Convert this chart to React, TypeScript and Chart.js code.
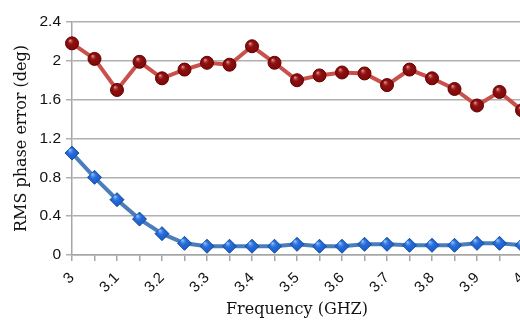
import React, { useEffect, useRef } from 'react';
import { Chart, registerables } from 'chart.js';

Chart.register(...registerables);

const frequencies = ['3', '3.05', '3.1', '3.15', '3.2', '3.25', '3.3', '3.35', '3.4', '3.45', '3.5', '3.55', '3.6', '3.65', '3.7', '3.75', '3.8', '3.85', '3.9', '3.95', '4'];
const shownTickLabels = ['3', '3.1', '3.2', '3.3', '3.4', '3.5', '3.6', '3.7', '3.8', '3.9', '4'];
const redSeries = [2.18, 2.02, 1.70, 1.99, 1.82, 1.91, 1.98, 1.96, 2.15, 1.98, 1.80, 1.85, 1.88, 1.87, 1.75, 1.91, 1.82, 1.71, 1.54, 1.68, 1.49];
const blueSeries = [1.05, 0.80, 0.57, 0.37, 0.22, 0.12, 0.09, 0.09, 0.09, 0.09, 0.11, 0.09, 0.09, 0.11, 0.11, 0.10, 0.10, 0.10, 0.12, 0.12, 0.10];
const yTicks = [0, 0.4, 0.8, 1.2, 1.6, 2, 2.4];

const glossPlugin = {
  id: 'gloss',
  afterDatasetsDraw(chart: any) {
    const ctx = chart.ctx;
    chart.data.datasets.forEach((ds: any, di: number) => {
      const meta = chart.getDatasetMeta(di);
      meta.data.forEach((pt: any) => {
        const r = di === 0 ? 6.5 : 7;
        ctx.save();
        ctx.beginPath();
        if (di === 0) {
          ctx.arc(pt.x, pt.y, r, 0, Math.PI * 2);
        } else {
          ctx.moveTo(pt.x, pt.y - r);
          ctx.lineTo(pt.x + r, pt.y);
          ctx.lineTo(pt.x, pt.y + r);
          ctx.lineTo(pt.x - r, pt.y);
          ctx.closePath();
        }
        const g = ctx.createRadialGradient(pt.x - r * 0.3, pt.y - r * 0.45, 0.5, pt.x, pt.y, r);
        if (di === 0) {
          g.addColorStop(0, 'rgba(235,150,150,0.9)');
          g.addColorStop(0.45, 'rgba(150,20,20,0.2)');
          g.addColorStop(1, 'rgba(90,0,0,0.35)');
        } else {
          g.addColorStop(0, 'rgba(150,200,255,0.9)');
          g.addColorStop(0.5, 'rgba(40,110,220,0.2)');
          g.addColorStop(1, 'rgba(15,60,150,0.4)');
        }
        ctx.fillStyle = g;
        ctx.fill();
        ctx.restore();
      });
    });
  },
};

export default function App() {
  const ref = useRef<HTMLCanvasElement>(null);
  useEffect(() => {
    if (!ref.current) return;
    const chart = new Chart(ref.current, {
      type: 'line',
      data: {
        labels: frequencies,
        datasets: [
          {
            label: 'Red',
            data: redSeries,
            borderColor: '#c9504b',
            borderWidth: 4,
            pointStyle: 'circle',
            pointRadius: 6.5,
            pointBackgroundColor: '#8a0d0d',
            pointBorderColor: '#6a0505',
            pointBorderWidth: 1,
            clip: false,
            tension: 0,
          },
          {
            label: 'Blue',
            data: blueSeries,
            borderColor: '#4a7ebb',
            borderWidth: 4,
            pointStyle: 'rectRot',
            pointRadius: 7,
            pointBackgroundColor: '#1f66d6',
            pointBorderColor: '#1a4f9e',
            pointBorderWidth: 1,
            clip: false,
            tension: 0,
          },
        ],
      },
      plugins: [glossPlugin],
      options: {
        animation: false,
        responsive: false,
        maintainAspectRatio: false,
        layout: { padding: { top: 22, right: 18, left: 12, bottom: 0 } },
        plugins: { legend: { display: false }, tooltip: { enabled: false } },
        scales: {
          x: {
            type: 'category',
            offset: false,
            grid: {
              drawOnChartArea: false,
              drawTicks: true,
              tickLength: 6,
              color: '#a6a6a6',
              lineWidth: 1.5,
            },
            border: { display: true, color: '#a6a6a6', width: 1.5 },
            ticks: {
              autoSkip: false,
              maxRotation: 45,
              minRotation: 45,
              padding: 8,
              color: '#111',
              font: { family: 'Liberation Sans', size: 15 },
              callback: (_v: any, i: number) =>
                shownTickLabels.includes(frequencies[i]) ? frequencies[i] : '',
            },
            title: {
              display: true,
              text: 'Frequency (GHZ)',
              color: '#111',
              font: { family: 'DejaVu Serif', size: 16 },
              padding: { top: 4, bottom: 3 },
            },
            afterFit: (s: any) => {
              s.height = 67;
              s.paddingLeft = 0;
              s.paddingRight = 0;
            },
          },
          y: {
            min: 0,
            max: 2.4,
            afterBuildTicks: (s: any) => {
              s.ticks = yTicks.map((v) => ({ value: v }));
            },
            grid: {
              color: '#b0b0b0',
              lineWidth: 1.5,
              drawTicks: true,
              tickLength: 6,
            },
            border: { display: true, color: '#a6a6a6', width: 1.5 },
            ticks: {
              padding: 5,
              color: '#111',
              font: { family: 'Liberation Sans', size: 15.5 },
              callback: (v: any) => String(parseFloat(Number(v).toFixed(1))),
            },
            title: {
              display: true,
              text: 'RMS phase error (deg)',
              color: '#111',
              font: { family: 'DejaVu Serif', size: 16 },
              padding: { top: 0, bottom: 2 },
            },
            afterFit: (s: any) => {
              s.width = 60;
            },
          },
        },
      },
    });
    return () => chart.destroy();
  }, []);
  return (
    <div style={{ position: 'fixed', left: 0, top: 0, width: 520, height: 322, overflow: 'hidden', background: '#fff' }}>
      <div style={{ width: 540, height: 322 }}>
        <canvas ref={ref} width={540} height={322} style={{ display: 'block', width: 540, height: 322 }} />
      </div>
    </div>
  );
}
